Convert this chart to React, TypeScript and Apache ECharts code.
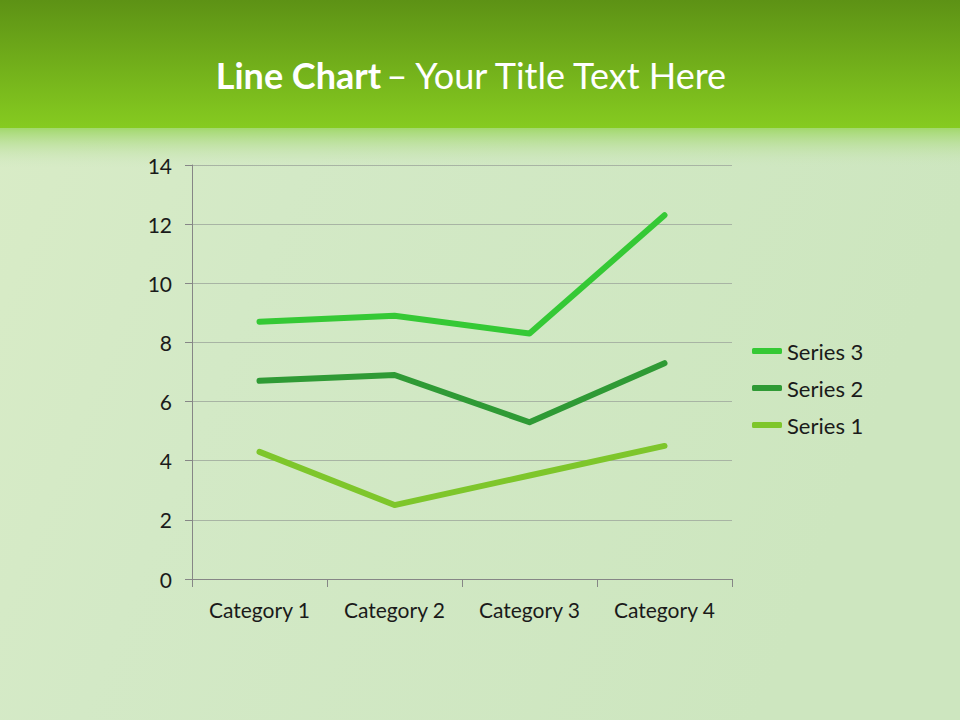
import React, { useEffect, useRef } from "react";
import * as echarts from "echarts";

const categories = ["Category 1", "Category 2", "Category 3", "Category 4"];
const series1 = [4.3, 2.5, 3.5, 4.5];
const series2 = [2.4, 4.4, 1.8, 2.8];
const series3 = [2, 2, 3, 5];
const yTicks = { min: 0, max: 14, interval: 2 };

const FONT = "Lato, 'Open Sans', sans-serif";

export default function App() {
  const ref = useRef<HTMLDivElement>(null);
  useEffect(() => {
    document.body.style.margin = "0";
    const chart = echarts.init(ref.current!, null, { renderer: "svg" });
    chart.setOption({
      animation: false,
      graphic: [
        {
          type: "rect",
          shape: { x: 0, y: 0, width: 960, height: 720 },
          style: {
            fill: new echarts.graphic.LinearGradient(0, 0, 1, 0.3, [
              { offset: 0, color: "#d9ecc6" },
              { offset: 0.35, color: "#d3e9c6" },
              { offset: 1, color: "#cde6bf" },
            ]),
          },
          z: -10,
        },
        {
          type: "rect",
          shape: { x: 0, y: 128, width: 960, height: 40 },
          style: {
            fill: new echarts.graphic.LinearGradient(0, 0, 0, 1, [
              { offset: 0, color: "#a2d86c" },
              { offset: 1, color: "rgba(205,230,190,0)" },
            ]),
          },
          z: -9,
        },
        {
          type: "rect",
          shape: { x: 0, y: 0, width: 960, height: 128 },
          style: {
            fill: new echarts.graphic.LinearGradient(0, 0, 0, 1, [
              { offset: 0, color: "#5d9215" },
              { offset: 1, color: "#86cb20" },
            ]),
          },
          z: -8,
        },
        {
          type: "text",
          x: 472,
          y: 75,
          style: {
            text: "{b|Line Chart} {r|– Your Title Text Here}",
            align: "center",
            verticalAlign: "middle",
            rich: {
              b: { fontFamily: FONT, fontSize: 36, fontWeight: "bold", fill: "#ffffff" },
              r: { fontFamily: FONT, fontSize: 36, fontWeight: "normal", fill: "#ffffff" },
            },
          },
          z: 10,
        },
      ],
      grid: { left: 192, right: 228, top: 165, bottom: 141, containLabel: false },
      legend: {
        data: ["Series 3", "Series 2", "Series 1"],
        orient: "vertical",
        left: 747,
        top: 335,
        icon: "roundRect",
        itemWidth: 30,
        itemHeight: 6,
        itemGap: 15,
        textStyle: { fontFamily: FONT, fontSize: 22, color: "#1a1a1a" },
      },
      xAxis: {
        type: "category",
        data: categories,
        boundaryGap: true,
        axisLine: { lineStyle: { color: "#868686", width: 1 } },
        axisTick: { show: true, length: 8, alignWithLabel: false, lineStyle: { color: "#868686" } },
        axisLabel: { fontFamily: FONT, fontSize: 21, color: "#1a1a1a", margin: 20 },
        splitLine: { show: false },
      },
      yAxis: {
        type: "value",
        min: yTicks.min,
        max: yTicks.max,
        interval: yTicks.interval,
        axisLine: { show: true, lineStyle: { color: "#868686", width: 1 } },
        axisTick: { show: true, length: 7, lineStyle: { color: "#868686" } },
        axisLabel: { fontFamily: FONT, fontSize: 21, color: "#1a1a1a", margin: 20 },
        splitLine: { show: true, lineStyle: { color: "#a8b4a4", width: 1 } },
      },
      series: [
        {
          name: "Series 1",
          type: "line",
          stack: "total",
          data: series1,
          symbol: "none",
          lineStyle: { color: "#7ec62b", width: 6, cap: "round", join: "round" },
          itemStyle: { color: "#7ec62b" },
        },
        {
          name: "Series 2",
          type: "line",
          stack: "total",
          data: series2,
          symbol: "none",
          lineStyle: { color: "#2f9a35", width: 6, cap: "round", join: "round" },
          itemStyle: { color: "#2f9a35" },
        },
        {
          name: "Series 3",
          type: "line",
          stack: "total",
          data: series3,
          symbol: "none",
          lineStyle: { color: "#35c935", width: 6, cap: "round", join: "round" },
          itemStyle: { color: "#35c935" },
        },
      ],
    });
    return () => chart.dispose();
  }, []);
  return (
    <div
      ref={ref}
      style={{ position: "absolute", left: 0, top: 0, width: 960, height: 720 }}
    />
  );
}
